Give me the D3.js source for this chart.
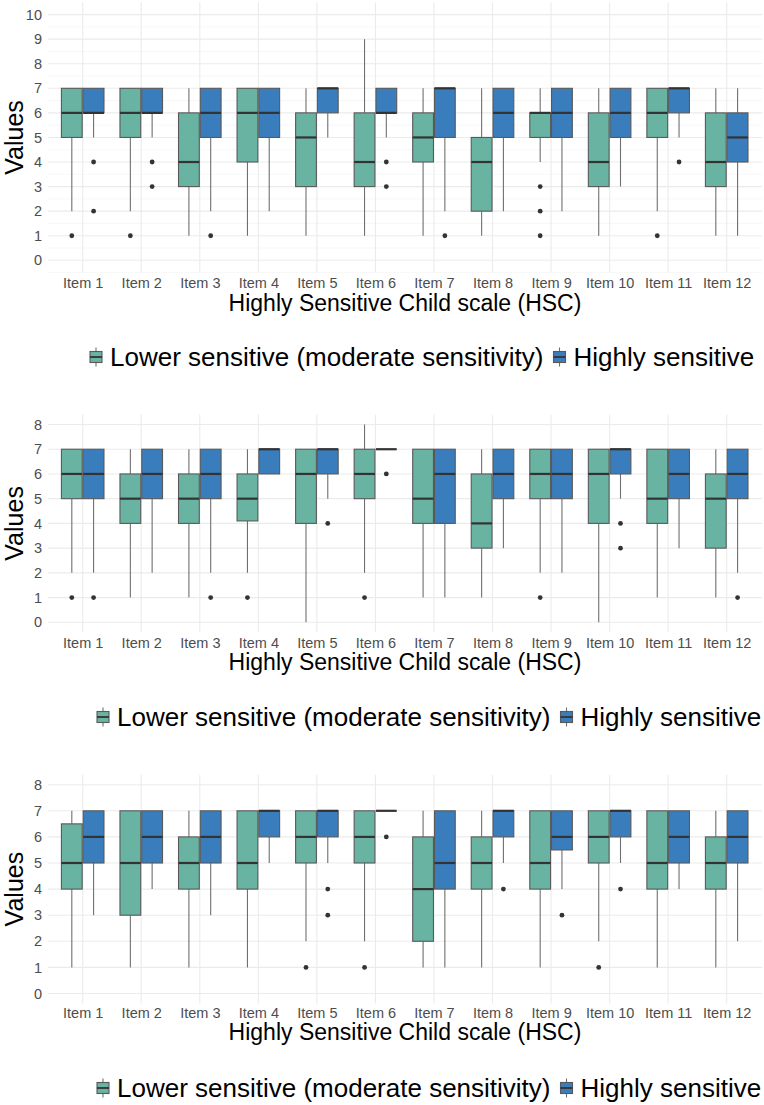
<!DOCTYPE html>
<html>
<head>
<meta charset="utf-8">
<script src="https://cdn.jsdelivr.net/npm/d3@7"></script>
<style>
    body { margin: 0; background: #fff; }
    svg { display: block; font-family: "Liberation Sans", Arial, sans-serif; }
</style>
</head>
<body>
<script>
const items = ["Item 1", "Item 2", "Item 3", "Item 4", "Item 5", "Item 6",
    "Item 7", "Item 8", "Item 9", "Item 10", "Item 11", "Item 12"];
const groups = ["Lower sensitive (moderate sensitivity)", "Highly sensitive"];
const groupColors = ["#69b3a2", "#3a7dbd"];

// [lower whisker, q1, median, q3, upper whisker] per item
const hsc1Lower = [[2,5,6,7,7],[2,5,6,7,7],[1,3,4,6,7],[1,4,6,7,7],[1,3,5,6,7],[1,3,4,6,9],
    [1,4,5,6,7],[1,2,4,5,7],[4,5,6,6,7],[1,3,4,6,7],[2,5,6,7,7],[1,3,4,6,7]];
const hsc1LowerOut = [[1],[1],[],[],[],[],[],[],[3,2,1],[],[1],[]];
const hsc1High = [[5,6,6,7,7],[5,6,6,7,7],[2,5,6,7,7],[2,5,6,7,7],[5,6,7,7,7],[5,6,6,7,7],
    [2,5,7,7,7],[2,5,6,7,7],[2,5,6,7,7],[3,5,6,7,7],[5,6,7,7,7],[1,4,5,6,7]];
const hsc1HighOut = [[4,2],[4,3],[1],[],[],[4,3],[1],[],[],[],[4],[]];

const hsc2Lower = [[2,5,6,7,7],[1,4,5,6,7],[1,4,5,6,7],[2,4.1,5,6,7],[0,4,6,7,7],[2,5,6,7,8],
    [1,4,5,7,7],[1,3,4,6,7],[2,5,6,7,7],[0,4,6,7,7],[1,4,5,7,7],[1,3,5,6,7]];
const hsc2LowerOut = [[1],[],[],[1],[],[1],[],[],[1],[],[],[]];
const hsc2High = [[2,5,6,7,7],[2,5,6,7,7],[2,5,6,7,7],[6,6,7,7,7],[5,6,7,7,7],[7,7,7,7,7],
    [1,4,6,7,7],[3,5,6,7,7],[2,5,6,7,7],[5,6,7,7,7],[3,5,6,7,7],[2,5,6,7,7]];
const hsc2HighOut = [[1],[],[1],[],[4],[6],[],[],[],[4,3],[],[1]];

const hsc3Lower = [[1,4,5,6.5,7],[1,3,5,7,7],[1,4,5,6,7],[1,4,5,7,7],[2,5,6,7,7],[2,5,6,7,7],
    [1,2,4,6,7],[1,4,5,6,7],[1,4,5,7,7],[2,5,6,7,7],[1,4,5,7,7],[1,4,5,6,7]];
const hsc3LowerOut = [[],[],[],[],[1],[1],[],[],[],[1],[],[]];
const hsc3High = [[3,5,6,7,7],[4,5,6,7,7],[3,5,6,7,7],[5,6,7,7,7],[5,6,7,7,7],[7,7,7,7,7],
    [1,4,5,7,7],[5,6,7,7,7],[4,5.5,6,7,7],[5,6,7,7,7],[4,5,6,7,7],[2,5,6,7,7]];
const hsc3HighOut = [[],[],[],[],[4,3],[6],[],[4],[3],[4],[],[]];

const yTicks1 = d3.range(0, 11);
const yTicks2 = d3.range(0, 9);

let svg = d3.select("body")
    .append("svg")
    .attr("width", 764)
    .attr("height", 1105);

let x = d3.scalePoint()
    .domain(items)
    .range([82.7, 726.7]);

const left = 48;
const right = 762;

function drawPanel(p) {
    let y = d3.scaleLinear()
        .domain(p.domain)
        .range([p.bottom, p.top]);

    let g = svg.append("g");
    let step = x.step();
    let boxW = step * 0.355;
    let offs = [-step * 0.186, step * 0.186];

    // minor grid
    let minor = d3.range(p.domain[0], p.domain[1], 0.5).filter(v => Math.abs(v % 1) === 0.5);
    g.selectAll(".minor")
        .data(minor)
        .join("line")
        .attr("x1", left).attr("x2", right)
        .attr("y1", d => y(d)).attr("y2", d => y(d))
        .attr("stroke", "#f2f2f2")
        .attr("stroke-width", 0.6);

    // major grid
    g.selectAll(".major")
        .data(p.ticks)
        .join("line")
        .attr("x1", left).attr("x2", right)
        .attr("y1", d => y(d)).attr("y2", d => y(d))
        .attr("stroke", "#ebebeb")
        .attr("stroke-width", 1.1);

    g.selectAll(".vgrid")
        .data(items)
        .join("line")
        .attr("x1", d => x(d)).attr("x2", d => x(d))
        .attr("y1", p.top).attr("y2", p.bottom)
        .attr("stroke", "#ebebeb")
        .attr("stroke-width", 1.1);

    // y axis
    let yAxis = d3.axisLeft(y).tickValues(p.ticks).tickSize(0).tickPadding(6);
    let ya = g.append("g")
        .attr("transform", `translate(${left - 0}, 0)`)
        .call(yAxis);
    ya.select(".domain").remove();
    ya.selectAll("text")
        .attr("font-size", "14.5px")
        .attr("fill", "#4d4d4d")
        .attr("font-family", "Liberation Sans, Arial, sans-serif");

    // x labels
    let xAxis = d3.axisBottom(x).tickSize(0).tickPadding(0);
    let xa = g.append("g")
        .attr("transform", `translate(0, ${p.labelY})`)
        .call(xAxis);
    xa.select(".domain").remove();
    xa.selectAll("text")
        .attr("dy", "0.35em")
        .attr("font-size", "14.5px")
        .attr("fill", "#4d4d4d")
        .attr("font-family", "Liberation Sans, Arial, sans-serif");

    g.append("text")
        .attr("x", (left + right) / 2)
        .attr("y", p.titleY)
        .attr("dy", "0.35em")
        .attr("text-anchor", "middle")
        .attr("font-size", "23px")
        .attr("fill", "#000")
        .text("Highly Sensitive Child scale (HSC)");

    g.append("text")
        .attr("transform", `translate(14, ${(p.top + p.bottom) / 2}) rotate(-90)`)
        .attr("dy", "0.35em")
        .attr("text-anchor", "middle")
        .attr("font-size", "25px")
        .attr("fill", "#000")
        .text("Values");

    // boxes
    [p.lower, p.high].forEach((stats, gi) => {
        let outs = gi === 0 ? p.lowerOut : p.highOut;
        stats.forEach((s, i) => {
            let cx = x(items[i]) + offs[gi];
            g.append("line")
                .attr("x1", cx).attr("x2", cx)
                .attr("y1", y(s[0])).attr("y2", y(s[1]))
                .attr("stroke", "#707070").attr("stroke-width", 1.1);
            g.append("line")
                .attr("x1", cx).attr("x2", cx)
                .attr("y1", y(s[3])).attr("y2", y(s[4]))
                .attr("stroke", "#707070").attr("stroke-width", 1.1);
            g.append("rect")
                .attr("x", cx - boxW / 2)
                .attr("y", y(s[3]))
                .attr("width", boxW)
                .attr("height", y(s[1]) - y(s[3]))
                .attr("fill", groupColors[gi])
                .attr("stroke", "#595959")
                .attr("stroke-width", 1.1);
            g.append("line")
                .attr("x1", cx - boxW / 2).attr("x2", cx + boxW / 2)
                .attr("y1", y(s[2])).attr("y2", y(s[2]))
                .attr("stroke", "#333")
                .attr("stroke-width", 2.2);
            outs[i].forEach(v => {
                g.append("circle")
                    .attr("cx", cx)
                    .attr("cy", y(v))
                    .attr("r", 2.4)
                    .attr("fill", "#333");
            });
        });
    });

    // legend
    let lx = p.legendX;
    groups.forEach((name, gi) => {
        let ly = p.legendY;
        let kx = lx + 6;
        g.append("line")
            .attr("x1", kx).attr("x2", kx)
            .attr("y1", ly - 9.5).attr("y2", ly + 9.5)
            .attr("stroke", "#707070").attr("stroke-width", 1.1);
        g.append("rect")
            .attr("x", lx).attr("y", ly - 5.5)
            .attr("width", 12).attr("height", 11)
            .attr("fill", groupColors[gi])
            .attr("stroke", "#595959").attr("stroke-width", 1.1);
        g.append("line")
            .attr("x1", lx).attr("x2", lx + 12)
            .attr("y1", ly).attr("y2", ly)
            .attr("stroke", "#333").attr("stroke-width", 1.8);
        let t = g.append("text")
            .attr("x", lx + 20)
            .attr("y", ly)
            .attr("dy", "0.35em")
            .attr("font-size", "26px")
            .attr("fill", "#000")
            .text(name);
        lx = lx + 20 + t.node().getComputedTextLength() + 10;
    });
}

drawPanel({
    domain: [-0.5, 10.5], top: 2.3, bottom: 272.6, ticks: yTicks1,
    labelY: 283, titleY: 303, legendY: 357, legendX: 90,
    lower: hsc1Lower, lowerOut: hsc1LowerOut, high: hsc1High, highOut: hsc1HighOut
});
drawPanel({
    domain: [-0.4, 8.4], top: 414.6, bottom: 632.2, ticks: yTicks2,
    labelY: 643, titleY: 662, legendY: 717, legendX: 97,
    lower: hsc2Lower, lowerOut: hsc2LowerOut, high: hsc2High, highOut: hsc2HighOut
});
drawPanel({
    domain: [-0.38, 8.38], top: 774.8, bottom: 1003.4, ticks: yTicks2,
    labelY: 1013, titleY: 1032, legendY: 1088, legendX: 97,
    lower: hsc3Lower, lowerOut: hsc3LowerOut, high: hsc3High, highOut: hsc3HighOut
});
</script>
</body>
</html>
